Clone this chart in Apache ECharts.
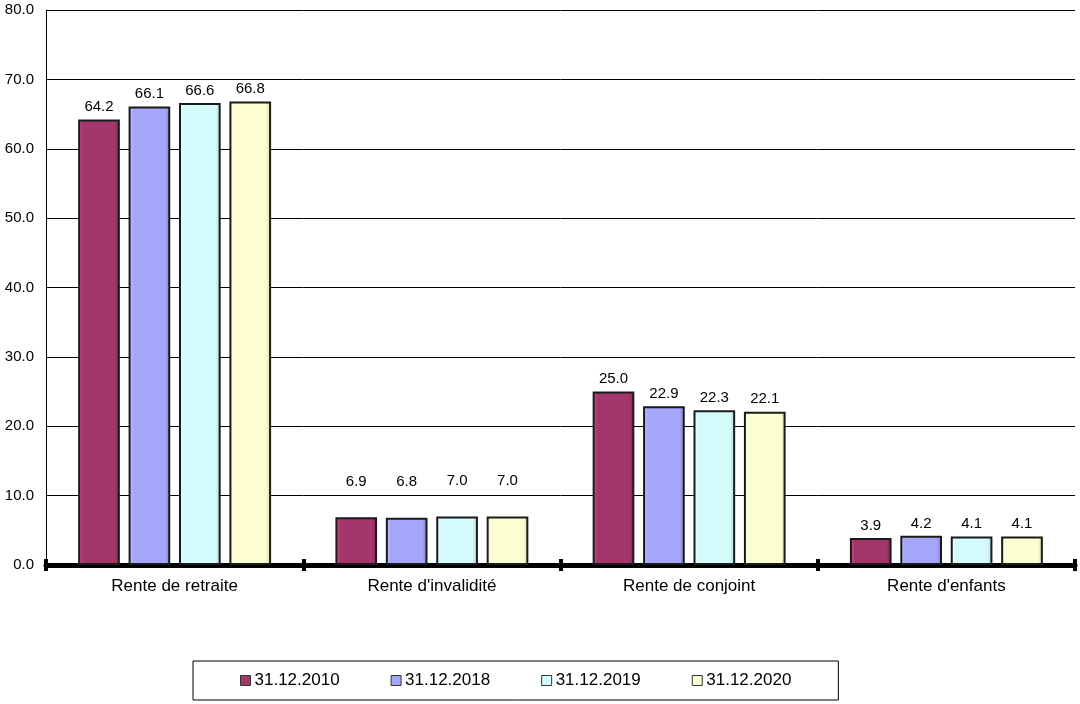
<!DOCTYPE html>
<html>
<head>
<meta charset="utf-8">
<title>Rentes</title>
<script src="https://cdn.jsdelivr.net/npm/echarts@6/dist/echarts.min.js"></script>
<style>
    html, body { margin: 0; padding: 0; background: #fff; }
    #chart { width: 1080px; height: 704px; }
</style>
</head>
<body>
<div id="chart"></div>
<script>
    var categories = ["Rente de retraite", "Rente d'invalidité", "Rente de conjoint", "Rente d'enfants"];
    var seriesNames = ['31.12.2010', '31.12.2018', '31.12.2019', '31.12.2020'];
    var values2010 = [64.2, 6.9, 25.0, 3.9];
    var values2018 = [66.1, 6.8, 22.9, 4.2];
    var values2019 = [66.6, 7.0, 22.3, 4.1];
    var values2020 = [66.8, 7.0, 22.1, 4.1];
    var yTicks = [0, 10, 20, 30, 40, 50, 60, 70, 80];

    var colors = ['#A3366B', '#A5A5FA', '#D3FBFB', '#FDFDD2'];
    var lights = ['#C9578E', '#C8C8FF', '#F0FFFF', '#FFFFF0'];
    var darks = ['#7A2450', '#7C7CC8', '#A8D0D0', '#D0D0A0'];

    function fill(i) {
        return new echarts.graphic.LinearGradient(0, 0, 1, 0, [
            {offset: 0, color: lights[i]},
            {offset: 0.12, color: colors[i]},
            {offset: 0.88, color: colors[i]},
            {offset: 1, color: darks[i]}
        ]);
    }

    var allValues = [values2010, values2018, values2019, values2020];
    var series = allValues.map(function (vals, i) {
        return {
            name: seriesNames[i],
            type: 'bar',
            xAxisIndex: 0,
            barGap: '21%',
            barCategoryGap: '25%',
            itemStyle: {color: fill(i), borderColor: '#1a1a1a', borderWidth: 2},
            label: {
                show: true, position: 'top', distance: 5,
                color: '#000', fontSize: 15, fontFamily: 'Liberation Sans, Arial',
                formatter: function (p) { return p.value.toFixed(1); }
            },
            data: vals.map(function (v, j) {
                return j === 1 ? {value: v, label: {distance: 28}} : v;
            })
        };
    });

    var chart = echarts.init(document.getElementById('chart'));
    chart.setOption({
        animation: false,
        textStyle: {fontFamily: 'Liberation Sans, Arial'},
        grid: {left: 46, right: 5, top: 10, bottom: 139},
        legend: {
            data: seriesNames.map(function (n, i) {
                return {name: n, itemStyle: {color: colors[i], borderColor: '#333', borderWidth: 1}};
            }),
            left: 193, top: 661,
            padding: [11, 47, 11, 47],
            itemWidth: 10, itemHeight: 10, itemGap: 51,
            borderColor: '#000', borderWidth: 1, borderRadius: 0,
            textStyle: {fontSize: 17, color: '#000', padding: [0, 0, 0, -1]},
            icon: 'rect'
        },
        xAxis: [{
            type: 'category',
            data: categories,
            axisLine: {lineStyle: {color: '#000', width: 5}},
            axisTick: {show: true, length: 6, lineStyle: {color: '#000', width: 4}},
            axisLabel: {color: '#000', fontSize: 17, margin: 13}
        }, {
            type: 'category',
            data: categories,
            position: 'bottom',
            axisLine: {show: false},
            axisTick: {show: true, inside: true, length: 6, lineStyle: {color: '#000', width: 4}},
            axisLabel: {show: false}
        }],
        yAxis: {
            type: 'value',
            min: yTicks[0], max: yTicks[yTicks.length - 1], interval: 10,
            axisLine: {show: true, lineStyle: {color: '#000', width: 1}},
            axisTick: {show: false},
            axisLabel: {color: '#000', fontSize: 15, margin: 12,
                formatter: function (v) { return v.toFixed(1); }},
            splitLine: {lineStyle: {color: '#000', width: 1}}
        },
        series: series
    });
</script>
</body>
</html>
